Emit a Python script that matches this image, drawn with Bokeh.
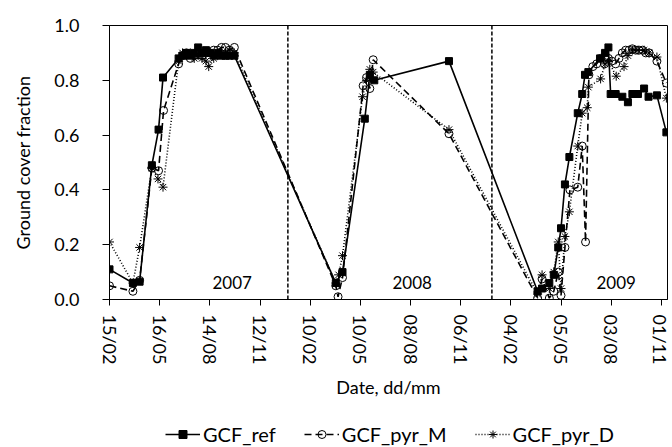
import pandas as pd
from bokeh.plotting import figure
from bokeh.layouts import column
from bokeh.models import (Span, Label, Legend, LegendItem, FixedTicker,
                          Range1d, NumeralTickFormatter)
from bokeh.embed import file_html
from bokeh.resources import INLINE

# ---------------- data ----------------
origin = "2007-02-15"

ref_dates = ["2007-02-15", "2007-03-29", "2007-04-10", "2007-05-02", "2007-05-14", "2007-05-22",
             "2007-06-19", "2007-06-26", "2007-07-03", "2007-07-10", "2007-07-17", "2007-07-24",
             "2007-07-31", "2007-08-07", "2007-08-14", "2007-08-21", "2007-08-28", "2007-09-04",
             "2007-09-11", "2007-09-18", "2007-09-27",
             "2008-03-27", "2008-04-08", "2008-05-18", "2008-05-27", "2008-06-04", "2008-10-16",
             "2009-03-24", "2009-04-01", "2009-04-14", "2009-04-22", "2009-04-30", "2009-05-05",
             "2009-05-12", "2009-05-20", "2009-06-04", "2009-06-12", "2009-06-17", "2009-06-23",
             "2009-07-14", "2009-07-23", "2009-07-29", "2009-08-02", "2009-08-11", "2009-08-23",
             "2009-09-02", "2009-09-10", "2009-09-20", "2009-10-01", "2009-10-09", "2009-10-24",
             "2009-11-10"]
ref_vals = [0.11, 0.06, 0.065, 0.49, 0.62, 0.81,
            0.88, 0.89, 0.90, 0.89, 0.90, 0.92,
            0.90, 0.91, 0.90, 0.89, 0.90, 0.89,
            0.89, 0.89, 0.89,
            0.06, 0.10, 0.66, 0.82, 0.80, 0.87,
            0.03, 0.04, 0.06, 0.09, 0.19, 0.26,
            0.42, 0.52, 0.68, 0.75, 0.82, 0.83,
            0.88, 0.90, 0.92, 0.75, 0.75, 0.74,
            0.72, 0.75, 0.75, 0.77, 0.74, 0.745,
            0.61]

pyrM_dates = ["2007-02-15", "2007-03-29", "2007-04-10", "2007-05-02", "2007-05-14", "2007-05-23",
              "2007-06-19", "2007-06-26", "2007-07-03", "2007-07-10", "2007-07-17", "2007-07-24",
              "2007-07-31", "2007-08-07", "2007-08-14", "2007-08-21", "2007-08-28", "2007-09-04",
              "2007-09-11", "2007-09-18", "2007-09-27",
              "2008-03-27", "2008-03-31", "2008-04-08", "2008-05-15", "2008-05-21", "2008-05-27",
              "2008-06-02", "2008-10-16",
              "2009-03-24", "2009-04-01", "2009-04-14", "2009-04-22", "2009-04-30", "2009-05-05",
              "2009-05-12", "2009-05-21", "2009-06-04", "2009-06-12", "2009-06-18", "2009-06-24",
              "2009-07-01", "2009-07-08", "2009-07-15", "2009-07-22", "2009-07-29", "2009-08-04",
              "2009-08-11", "2009-08-17", "2009-08-23", "2009-08-29", "2009-09-04", "2009-09-10",
              "2009-09-16", "2009-09-22", "2009-09-28", "2009-10-04", "2009-10-10", "2009-10-24",
              "2009-11-10"]
pyrM_vals = [0.05, 0.03, 0.07, 0.48, 0.47, 0.69,
             0.86, 0.89, 0.90, 0.88, 0.89, 0.90,
             0.89, 0.90, 0.90, 0.91, 0.91, 0.92,
             0.92, 0.91, 0.92,
             0.05, 0.01, 0.08, 0.78, 0.81, 0.77,
             0.875, 0.605,
             0.005, 0.075, 0.005, 0.03, 0.10, 0.015,
             0.19, 0.40, 0.41, 0.56, 0.21, 0.82,
             0.85, 0.86, 0.88, 0.86, 0.88, 0.87,
             0.86, 0.88, 0.90, 0.91, 0.91, 0.915,
             0.91, 0.91, 0.91, 0.90, 0.90, 0.87,
             0.79]

pyrD_dates = ["2007-02-15", "2007-03-29", "2007-04-10", "2007-05-02", "2007-05-13", "2007-05-22",
              "2007-06-19", "2007-06-26", "2007-07-03", "2007-07-10", "2007-07-17", "2007-07-24",
              "2007-07-31", "2007-08-07", "2007-08-12", "2007-08-21", "2007-08-28", "2007-09-04",
              "2007-09-11", "2007-09-18", "2007-09-27",
              "2008-03-27", "2008-04-01", "2008-04-08", "2008-05-14", "2008-05-21", "2008-05-27",
              "2008-06-02", "2008-10-16",
              "2009-03-24", "2009-04-01", "2009-04-14", "2009-04-22", "2009-04-30", "2009-05-05",
              "2009-05-12", "2009-05-20", "2009-06-04", "2009-06-12", "2009-06-21", "2009-06-23",
              "2009-07-15", "2009-07-23", "2009-07-29", "2009-08-12", "2009-08-26", "2009-09-02",
              "2009-09-10", "2009-09-20", "2009-10-01", "2009-10-10", "2009-10-24", "2009-11-10"]
pyrD_vals = [0.21, 0.06, 0.19, 0.48, 0.44, 0.41,
             0.87, 0.90, 0.89, 0.90, 0.88, 0.89,
             0.88, 0.87, 0.85, 0.88, 0.89, 0.90,
             0.90, 0.91, 0.90,
             0.06, 0.09, 0.16, 0.74, 0.80, 0.84,
             0.83, 0.62,
             0.02, 0.09, 0.04, 0.10, 0.21, 0.04,
             0.23, 0.32, 0.56, 0.68, 0.70, 0.775,
             0.805, 0.86, 0.87, 0.815, 0.85, 0.89,
             0.91, 0.91, 0.91, 0.90, 0.885, 0.735]

x_tick_dates = ["2007-02-15", "2007-05-16", "2007-08-14", "2007-11-12", "2008-02-10",
                "2008-05-10", "2008-08-08", "2008-11-06", "2009-02-04", "2009-05-05",
                "2009-08-03", "2009-11-01"]
x_tick_labels = ["15/02", "16/05", "14/08", "12/11", "10/02", "10/05",
                 "08/08", "06/11", "04/02", "05/05", "03/08", "01/11"]
y_ticks = [0.0, 0.2, 0.4, 0.6, 0.8, 1.0]
x_end = "2009-11-12"

year_dividers = ["2008-01-01", "2009-01-01"]
year_labels = ["2007", "2008", "2009"]
year_label_dates = ["2007-09-23", "2008-08-11", "2009-08-12"]
year_label_y = 0.062

series_names = ["GCF_ref", "GCF_pyr_M", "GCF_pyr_D"]

# ---------------- helpers ----------------
t0 = pd.Timestamp(origin)


def days(ds):
    return [(pd.Timestamp(d) - t0).days for d in ds]


FONT = "Lato"
FS = "18px"
W = 670

p = figure(width=W, height=412, output_backend="svg", toolbar_location=None,
           x_range=Range1d(0, days([x_end])[0]), y_range=Range1d(0, 1.0),
           min_border_left=109, min_border_right=3, min_border_top=25,
           min_border_bottom=113)
p.background_fill_color = "white"
p.border_fill_color = "white"
p.outline_line_color = "black"
p.outline_line_width = 1
p.xgrid.visible = False
p.ygrid.visible = False

# axes
xt = days(x_tick_dates)
p.xaxis.ticker = FixedTicker(ticks=xt)
p.xaxis.major_label_overrides = {t: l for t, l in zip(xt, x_tick_labels)}
p.xaxis.major_label_orientation = "vertical"
p.yaxis.ticker = FixedTicker(ticks=y_ticks)
p.yaxis.formatter = NumeralTickFormatter(format="0.0")
for ax in (p.xaxis[0], p.yaxis[0]):
    ax.axis_line_color = "black"
    ax.major_tick_line_color = "black"
    ax.major_tick_out = 7
    ax.major_tick_in = 0
    ax.minor_tick_line_color = None
    ax.major_label_text_font = FONT
    ax.major_label_text_font_size = FS
    ax.major_label_text_color = "black"
    ax.axis_label_text_font = FONT
    ax.axis_label_text_font_size = FS
    ax.axis_label_text_font_style = "normal"
    ax.axis_label_text_color = "black"
p.xaxis.major_tick_out = 6
p.xaxis.axis_label = "Date, dd/mm"
p.yaxis.axis_label = "Ground cover fraction"
p.xaxis.major_label_standoff = 9
p.xaxis.axis_label_standoff = 9
p.yaxis.major_label_standoff = 23
p.yaxis.axis_label_standoff = 17

# year dividers
for d in days(year_dividers):
    p.add_layout(Span(location=d, dimension="height", line_color="black",
                      line_width=1.5, line_dash="4 2"))

# series
lw = 1.6
STY = [dict(line_dash="solid"), dict(line_dash="7 4"), dict(line_dash="1 2")]
MK = [dict(marker="square", size=7, fill_color="black", line_color="black"),
      dict(marker="circle", size=8, fill_color="white", fill_alpha=0.0,
           line_color="black", line_width=1),
      dict(marker="asterisk", size=9, line_color="black", line_width=1)]
series = [(ref_dates, ref_vals), (pyrM_dates, pyrM_vals), (pyrD_dates, pyrD_vals)]
for (ds, vs), st, mk in zip(series, STY, MK):
    p.line(days(ds), vs, line_color="black", line_width=lw, **st)
    p.scatter(days(ds), vs, **mk)

# year labels
for lbl, d in zip(year_labels, days(year_label_dates)):
    p.add_layout(Label(x=d, y=year_label_y, text=lbl, text_align="center",
                       text_baseline="middle", text_font=FONT,
                       text_font_size="17px", text_color="black"))

# ---------------- legend strip ----------------
# same series drawn outside this strip's visible range: only the legend shows
lg = figure(width=W, height=34, output_backend="svg", toolbar_location=None,
            x_range=Range1d(5000, 5001), y_range=Range1d(0, 1),
            min_border_left=0, min_border_right=0, min_border_top=0,
            min_border_bottom=0)
lg.axis.visible = False
lg.xgrid.visible = False
lg.ygrid.visible = False
lg.outline_line_color = None
LEG_SIZE = [5, 6, 7]
items = []
for name, (ds, vs), st, mk, sz in zip(series_names, series, STY, MK, LEG_SIZE):
    rl = lg.line(days(ds), vs, line_color="black", line_width=lw, **st)
    mk2 = dict(mk)
    mk2["size"] = sz
    rm = lg.scatter(days(ds), vs, **mk2)
    items.append(LegendItem(label=name, renderers=[rl, rm]))
legend = Legend(items=items, orientation="horizontal", location=(56, 0),
                border_line_color=None, background_fill_alpha=0,
                label_text_font=FONT, label_text_font_size="20px",
                label_text_color="black", glyph_width=35, label_standoff=3,
                spacing=28, padding=2, margin=0)
lg.add_layout(legend)

layout = column(p, lg, spacing=0)
open("out.html", "w").write(file_html(layout, INLINE))
